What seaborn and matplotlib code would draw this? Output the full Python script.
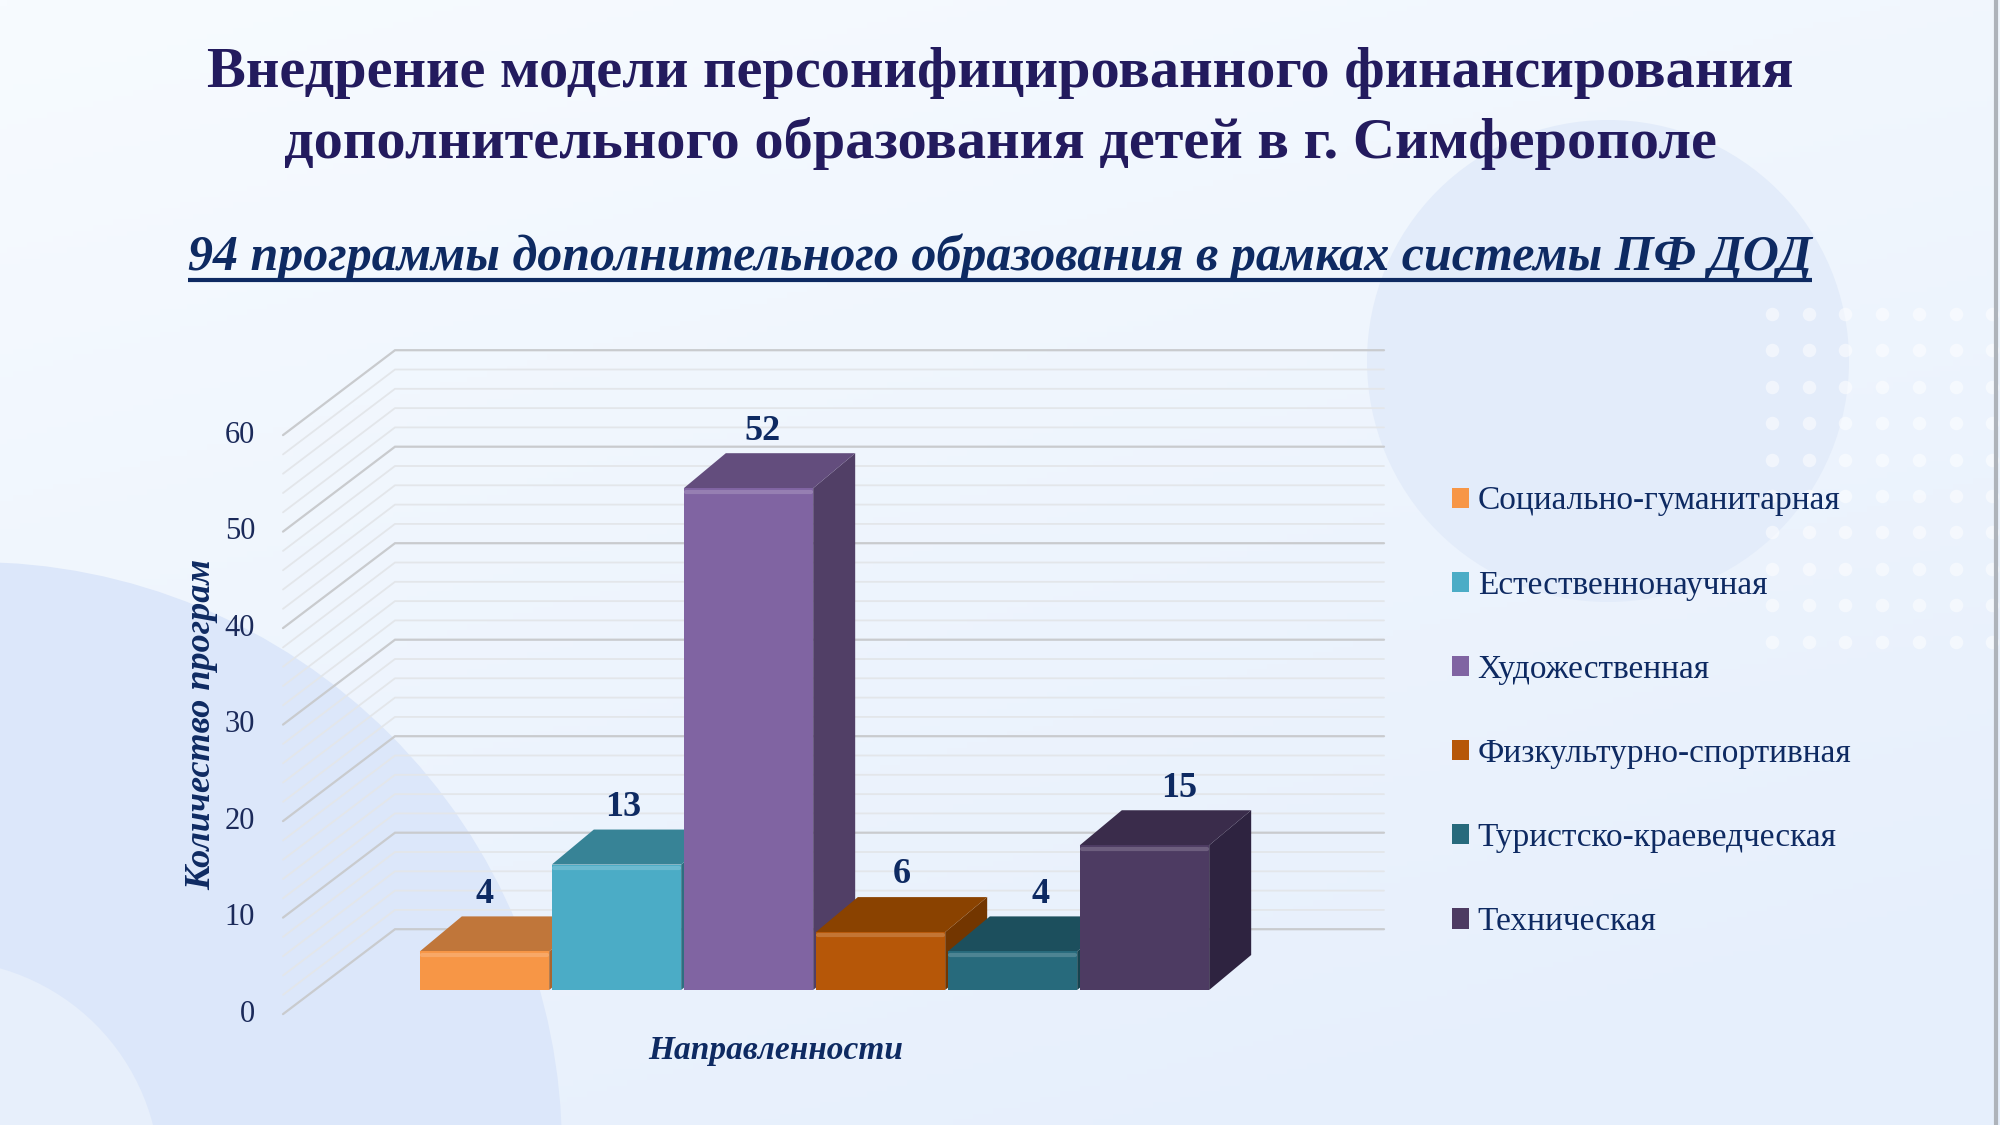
import numpy as np
import pandas as pd
import matplotlib
matplotlib.use('Agg')
import matplotlib.pyplot as plt
import seaborn as sns
from matplotlib.patches import Polygon, Circle, Patch
from matplotlib.colors import to_rgb

# chart data
categories = ['Социально-гуманитарная', 'Естественнонаучная', 'Художественная',
              'Физкультурно-спортивная', 'Туристско-краеведческая', 'Техническая']
counts = [4, 13, 52, 6, 4, 15]
y_ticks = [0, 10, 20, 30, 40, 50, 60]

title_lines = ['Внедрение модели персонифицированного финансирования',
               'дополнительного образования детей в г. Симферополе']
subtitle = '94 программы дополнительного образования в рамках системы ПФ ДОД'
y_label = 'Количество програм'
x_label = 'Направленности'

front_colors = ['#F79646', '#4BACC6', '#8064A2', '#B65708', '#276A7C', '#4D3B62']
top_colors = ['#C0763A', '#378396', '#634D7D', '#8A4200', '#1C4F5D', '#3A2C4B']
side_colors = ['#A9652E', '#2E6F80', '#513F66', '#733600', '#17434F', '#2E2340']

NAVY = '#0E2A62'
TITLE_COLOR = '#231B5E'

W, H = 2000, 1125
# pixel mapping of the bar plane: category 0 centre, value 0 baseline
X0, PX = 484.5, 132.0
Y0, PY = 990.0, 9.65
DEPTH_X, DEPTH_Y = 42 / PX, 35 / PY  # 3d depth of a bar

sns.set_theme(style='white')
plt.rcParams['font.family'] = ['Liberation Serif', 'DejaVu Serif']

fig = plt.figure(figsize=(20, 11.25), dpi=100)

# ---- background
bg = fig.add_axes([0, 0, 1, 1], zorder=0)
bg.set_xlim(0, W)
bg.set_ylim(H, 0)
bg.axis('off')
yy, xx = np.mgrid[0:1:200j, 0:1:300j]
t = np.clip(0.75 * yy + 0.35 * xx, 0, 1)[..., None]
c_top = np.array(to_rgb('#F7FBFF'))
c_bot = np.array(to_rgb('#E6EFFC'))
grad = c_top * (1 - t) + c_bot * t
bg.imshow(grad, extent=[0, W, H, 0], aspect='auto', zorder=0)
bg.add_patch(Circle((1608, 361), 241, color='#E3ECFA', lw=0, zorder=1))
bg.add_patch(Circle((-26, 1150), 588, color='#DCE7FA', lw=0, zorder=1))
bg.add_patch(Circle((-60, 1180), 220, color='#E7EFFB', lw=0, zorder=2))
dx, dy = np.meshgrid(np.arange(1772, 2000, 36.7), np.arange(314, 650, 36.4))
bg.scatter(dx.ravel(), dy.ravel(), s=95, color='white', alpha=0.5, lw=0, zorder=3)
bg.axvline(1996, color='#AEB3BA', lw=3, zorder=4)

# ---- titles
for line, ty in zip(title_lines, [73, 144]):
    bg.text(W / 2, ty, line, ha='center', va='center', fontsize=42, fontweight='bold',
            color=TITLE_COLOR, zorder=5)
sub = bg.text(W / 2, 270, subtitle, ha='center', va='baseline', fontsize=36,
              fontweight='bold', fontstyle='italic', color=NAVY, zorder=5)
fig.canvas.draw()
bb = sub.get_window_extent()
bg.plot([bb.x0, bb.x1], [280, 280], color=NAVY, lw=3, solid_capstyle='butt', zorder=5)

# ---- chart
ax = fig.add_axes([0, 0, 1, 1], zorder=1)
ax.patch.set_alpha(0)
df = pd.DataFrame({'category': categories, 'count': counts})
sns.barplot(data=df, x='category', y='count', hue='category', palette=front_colors,
            width=0.98, saturation=1, legend=False, ax=ax, linewidth=0)
bars = sorted(ax.patches, key=lambda p: p.get_x())
ax.set_xlim(-X0 / PX, (W - X0) / PX)
ax.set_ylim(-(H - Y0) / PY, Y0 / PY)
ax.axis('off')

# 3d walls: left wall diagonals + back wall lines
FX, BX, RX = (283 - X0) / PX, (395 - X0) / PX, (1384 - X0) / PX
FRONT_OFF, BACK_OFF = -2.5, 6.3
for v in range(0, 61, 2):
    major = v % 10 == 0
    ax.plot([FX, BX, RX], [v + FRONT_OFF, v + BACK_OFF, v + BACK_OFF],
            color='#C9CBCE' if major else '#E3E6EA', lw=1.6 if major else 1.3,
            zorder=2 if major else 1, solid_joinstyle='miter')
for v in y_ticks:
    ax.text((255 - X0) / PX, v + FRONT_OFF, str(v), ha='right', va='center',
            fontsize=22, color='#1B2A5A')

# bar tops and sides
for i, (bar, v) in enumerate(zip(bars, counts)):
    x0 = bar.get_x()
    x1 = x0 + bar.get_width()
    z = 10 + 3 * i
    side = Polygon([(x1, 0), (x1 + DEPTH_X, DEPTH_Y), (x1 + DEPTH_X, v + DEPTH_Y), (x1, v)],
                   closed=True, facecolor=side_colors[i], lw=0, zorder=z)
    top = Polygon([(x0, v), (x1, v), (x1 + DEPTH_X, v + DEPTH_Y), (x0 + DEPTH_X, v + DEPTH_Y)],
                  closed=True, facecolor=top_colors[i], lw=0, zorder=z + 1)
    ax.add_patch(side)
    ax.add_patch(top)
    bar.set_zorder(z + 2)
    # soft highlight along the top edge of the front face
    ax.plot([x0 + 0.02, x1 - 0.02], [v - 0.35, v - 0.35], color='white', alpha=0.18,
            lw=3, zorder=z + 2.5, solid_capstyle='round')
    ax.text(i + 0.053 * i, v + DEPTH_Y + 2.3, str(v), ha='center', va='center',
            fontsize=26, fontweight='bold', color=NAVY, zorder=40)

# axis titles
bg.text(202, 724, y_label, rotation=90, ha='center', va='center', fontsize=26,
        fontweight='bold', fontstyle='italic', color=NAVY, zorder=5)
bg.text(776, 1050, x_label, ha='center', va='center', fontsize=24,
        fontweight='bold', fontstyle='italic', color=NAVY, zorder=5)

# legend
handles = [Patch(facecolor=c, edgecolor='none') for c in front_colors]
ax.legend(handles, categories, loc='upper left', bbox_to_anchor=(1452 / W, 1 - 486 / H),
          frameon=False, fontsize=24, labelcolor=NAVY, borderpad=0, borderaxespad=0,
          handlelength=0.52, handleheight=0.55, handletextpad=0.25, labelspacing=1.61)

fig.savefig('out.png', dpi=100)
